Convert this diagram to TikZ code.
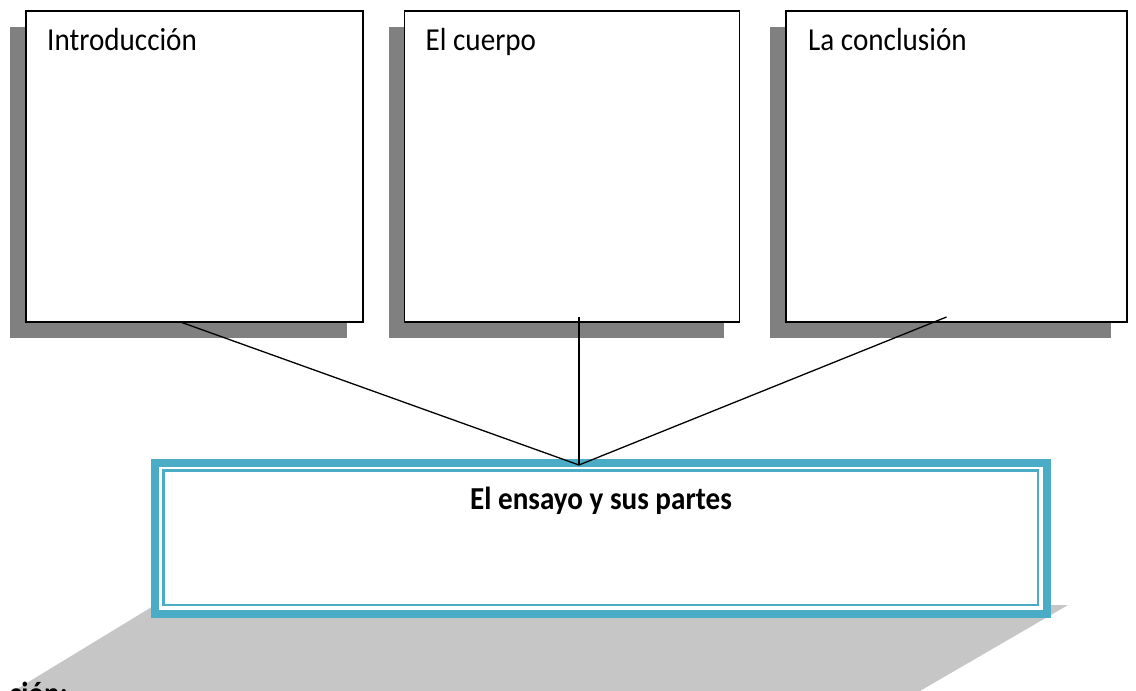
\documentclass[tikz,border=0pt]{standalone}
\usepackage{fontspec}
\setmainfont{Carlito}[FakeStretch=0.91]
\usetikzlibrary{shadows}

\definecolor{turquesa}{HTML}{4BACC6}
\definecolor{sombra}{HTML}{808080}
\definecolor{rayado}{HTML}{C6C6C6}

\tikzset{
  caja/.style={draw,fill=white,line width=1.2pt,minimum width=337pt,minimum height=311pt,
    inner sep=0pt,outer sep=0pt,
    drop shadow={shadow xshift=-16pt,shadow yshift=-16pt,fill=sombra,opacity=1}},
  titulo/.style={anchor=base west,inner sep=0pt,font=\fontsize{32}{38}\selectfont},
  linea/.style={line width=1.3pt}
}

\begin{document}
\begin{tikzpicture}[x=1pt,y=-1pt]
  \useasboundingbox (0,0) rectangle (1136,691);
  \clip (0,0) rectangle (1136,691);

  % cajas
  \node[caja] (intro) at (194.5,166.5) {};
  \node[caja,minimum width=335pt] (cuerpo) at (572,166.5) {};
  \node[caja,minimum width=341pt] (concl) at (956.5,166.5) {};
  \node[titulo] (intro-t) at ([shift={(21pt,-39pt)}]intro.north west) {Introducción};
  \node[titulo] (cuerpo-t) at ([shift={(21pt,-39pt)}]cuerpo.north west) {El cuerpo};
  \node[titulo] (concl-t) at ([shift={(22pt,-39pt)}]concl.north west) {La conclusión};

  % sombra rayada
  \fill[rayado] (155,605) -- (1068,605) -- (870,720) -- (-34,720) -- cycle;

  % el ensayo
  \node[draw=turquesa,fill=white,line width=8pt,minimum width=892pt,minimum height=151pt,
    inner sep=0pt,outer sep=0pt] (ensayo) at (601,538.5) {};
  \draw[turquesa,line width=2.5pt] ([shift={(8.5pt,-7.5pt)}]ensayo.north west)
    rectangle ([shift={(-9pt,9pt)}]ensayo.south east);
  \node[anchor=base,inner sep=0pt,font=\bfseries\fontsize{32}{38}\selectfont] (ensayo-t)
    at ([yshift=-46pt]ensayo.north) {El ensayo y sus partes};

  % lineas
  \coordinate (vertice) at (579,465);
  \draw[linea] ([xshift=-14pt]intro.south) -- (vertice);
  \draw[linea] ([shift={(7pt,5pt)}]cuerpo.south) -- (vertice);
  \draw[linea] ([shift={(-10pt,5pt)}]concl.south) -- (vertice);

  % pie (cortado por el borde)
  \node[anchor=base east,inner sep=0pt,font=\bfseries\fontsize{32}{38}\selectfont] (pie)
    at (68,704) {ción:};
\end{tikzpicture}
\end{document}
